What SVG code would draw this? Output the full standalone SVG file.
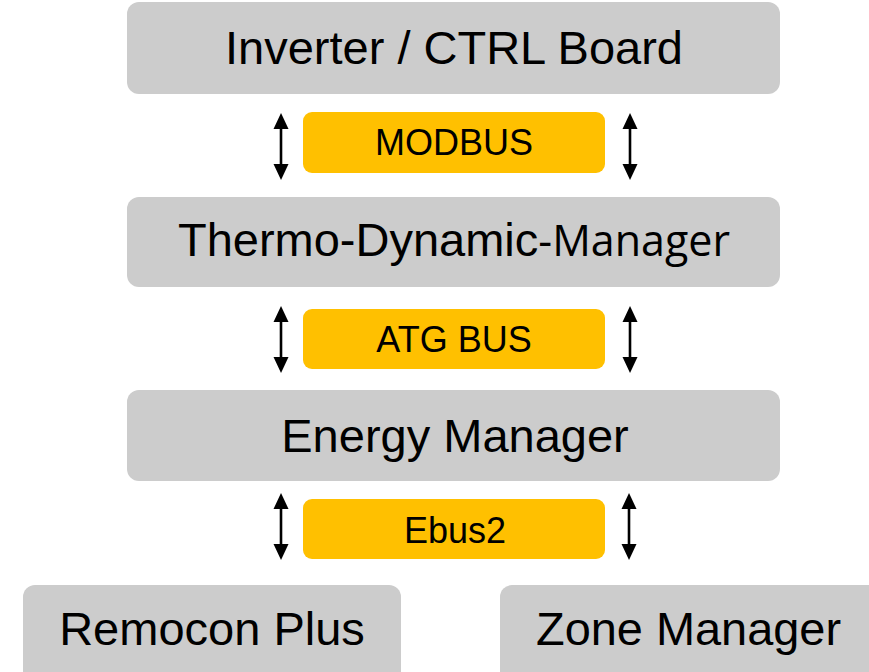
<svg xmlns="http://www.w3.org/2000/svg" width="869" height="672" viewBox="0 0 869 672">
<style>
.node{fill:#cccccc}
.bus{fill:#ffc000}
.big{font-family:"Liberation Sans",Arial,sans-serif;font-size:47px;fill:#000;text-anchor:middle}
.lbl{font-family:"Liberation Sans",Arial,sans-serif;font-size:36px;fill:#000;text-anchor:middle}
.conn{stroke:#000;stroke-width:2.6;fill:none;marker-start:url(#ah);marker-end:url(#ah)}
</style>
<defs>
<marker id="ah" markerUnits="userSpaceOnUse" markerWidth="16" markerHeight="16" viewBox="0 0 16 16" refX="6" refY="8" orient="auto-start-reverse">
<path d="M0,0.5 L16,8 L0,15.5 Z" fill="#000"/>
</marker>
</defs>
<rect width="869" height="672" fill="#ffffff"/>
<g id="inverter">
<rect class="node" x="127" y="2" width="653" height="92" rx="12"/>
<text class="big" x="454" y="64" font-size="47.5">Inverter / CTRL Board</text>
</g>
<g id="modbus">
<rect class="bus" x="303" y="112" width="302" height="61" rx="9"/>
<text class="lbl" x="454" y="155">MODBUS</text>
</g>
<g id="thermo">
<rect class="node" x="127" y="197" width="653" height="90" rx="12"/>
<text class="big" x="454" y="256"><tspan>Thermo-Dynamic</tspan><tspan font-family="'Open Sans',sans-serif" font-size="43">-Manager</tspan></text>
</g>
<g id="atgbus">
<rect class="bus" x="303" y="309" width="302" height="60" rx="9"/>
<text class="lbl" x="454" y="352">ATG BUS</text>
</g>
<g id="energy">
<rect class="node" x="127" y="390" width="653" height="91" rx="12"/>
<text class="big" x="455" y="452">Energy Manager</text>
</g>
<g id="ebus2">
<rect class="bus" x="303" y="499" width="302" height="60" rx="9"/>
<text class="lbl" x="455" y="543">Ebus2</text>
</g>
<g id="remocon">
<rect class="node" x="23" y="585" width="378" height="100" rx="12"/>
<text class="big" x="212" y="645" font-size="46">Remocon Plus</text>
</g>
<g id="zone">
<rect class="node" x="500" y="585" width="390" height="100" rx="12"/>
<text class="big" x="536" y="645" font-size="46" style="text-anchor:start" textLength="305" lengthAdjust="spacingAndGlyphs">Zone Manager</text>
</g>
<g id="connectors">
<line class="conn" x1="281" y1="123" x2="281" y2="170"/>
<line class="conn" x1="630" y1="123" x2="630" y2="170"/>
<line class="conn" x1="281" y1="316" x2="281" y2="363"/>
<line class="conn" x1="630" y1="316" x2="630" y2="363"/>
<line class="conn" x1="281" y1="503" x2="281" y2="550"/>
<line class="conn" x1="629" y1="503" x2="629" y2="550"/>
</g>
</svg>
